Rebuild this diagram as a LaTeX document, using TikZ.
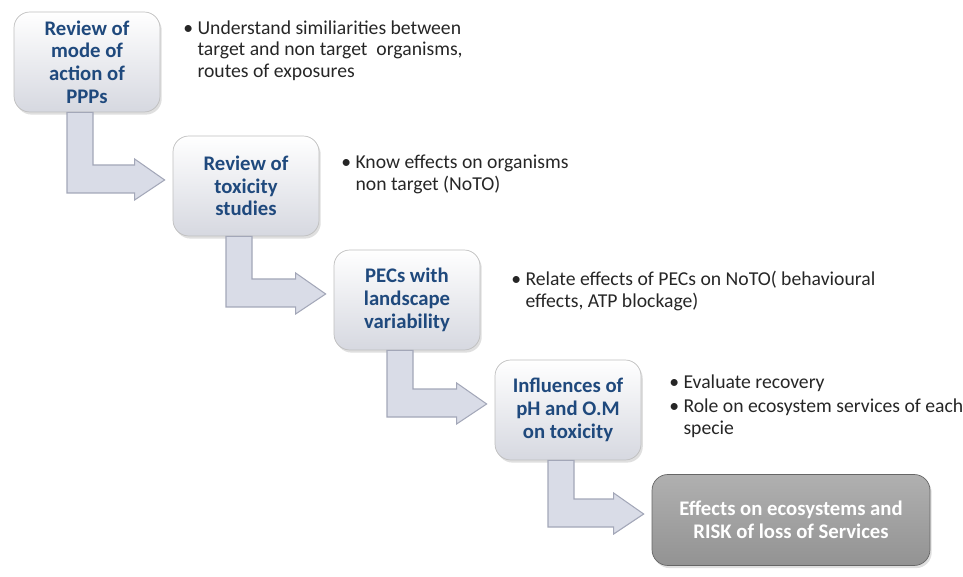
\documentclass[tikz,border=0pt]{standalone}
\usepackage{fontspec}
\setmainfont{Carlito}
\usepackage{tikz}
\usetikzlibrary{shapes, arrows, positioning, calc, shadows}

\definecolor{stepblue}{HTML}{1F497D}
\definecolor{stepgray}{HTML}{D6D8E0}
\definecolor{arrowfill}{HTML}{D9DCE7}
\definecolor{arrowline}{HTML}{A3A7B8}

\begin{document}
\begin{tikzpicture}[
			x=0.02cm, y=-0.02cm,
			stepbox/.style={draw=gray!50, rounded corners=9, top color=white, bottom color=stepgray,
				minimum width=2.92cm, minimum height=2cm, align=center, text=stepblue,
				font=\fontsize{11.8}{12.9}\selectfont\bfseries,
				drop shadow={opacity=0.25, shadow xshift=1pt, shadow yshift=-1.5pt}},
			endbox/.style={stepbox, draw=gray!80!black, top color=gray!62, bottom color=gray!85, text=white,
				minimum width=5.56cm, minimum height=1.82cm},
			note/.style={anchor=north west, inner sep=0pt, align=left, text=black!85,
				font=\fontsize{11.2}{12.5}\selectfont},
			bentarrow/.style={fill=arrowfill, draw=arrowline, line width=0.6pt, line join=miter}]
		\useasboundingbox (0,0) rectangle (963,577);

		\node[stepbox] (r1) at (87,62)   {Review of\\mode of\\action of\\PPPs};
		\node[stepbox] (r2) at (246,186) {Review of\\toxicity\\studies};
		\node[stepbox] (r3) at (407,300) {PECs with\\landscape\\variability};
		\node[stepbox] (r4) at (568,410) {Influences of\\pH and O.M\\on toxicity};
		\node[endbox]  (r5) at (791,520) {Effects on ecosystems and\\RISK of loss of Services};

		\node[note] (n1) at (183,20)  {•\hspace{2.5pt}Understand similiarities between\\
			\phantom{•}\hspace{2.5pt}target and non target\ \ organisms,\\
			\phantom{•}\hspace{2.5pt}routes of exposures};
		\node[note] (n2) at (341,155) {•\hspace{2.5pt}Know effects on organisms\\
			\phantom{•}\hspace{2.5pt}non target (NoTO)};
		\node[note] (n3) at (511,271) {•\hspace{2.5pt}Relate effects of PECs on NoTO( behavioural\\
			\phantom{•}\hspace{2.5pt}effects, ATP blockage)};
		\node[note] (n4) at (669,374) {•\hspace{2.5pt}Evaluate recovery\\[1.7pt]
			•\hspace{2.5pt}Role on ecosystem services of each\\
			\phantom{•}\hspace{2.5pt}specie};

		\foreach \from/\to in {r1/r2, r2/r3, r3/r4, r4/r5}
			\draw[bentarrow] ($(\from.south)+(-20,0)$) -- ($(\from.south)+(6,0)$)
				-- ($(\from.south |- \to.west)+(6,-21)$) -- ($(\to.west)+(-38,-21)$)
				-- ($(\to.west)+(-38,-27)$) -- ($(\to.west)+(-8,-6)$)
				-- ($(\to.west)+(-38,14)$) -- ($(\to.west)+(-38,7)$)
				-- ($(\from.south |- \to.west)+(-20,7)$) -- cycle;
	\end{tikzpicture}
\end{document}
